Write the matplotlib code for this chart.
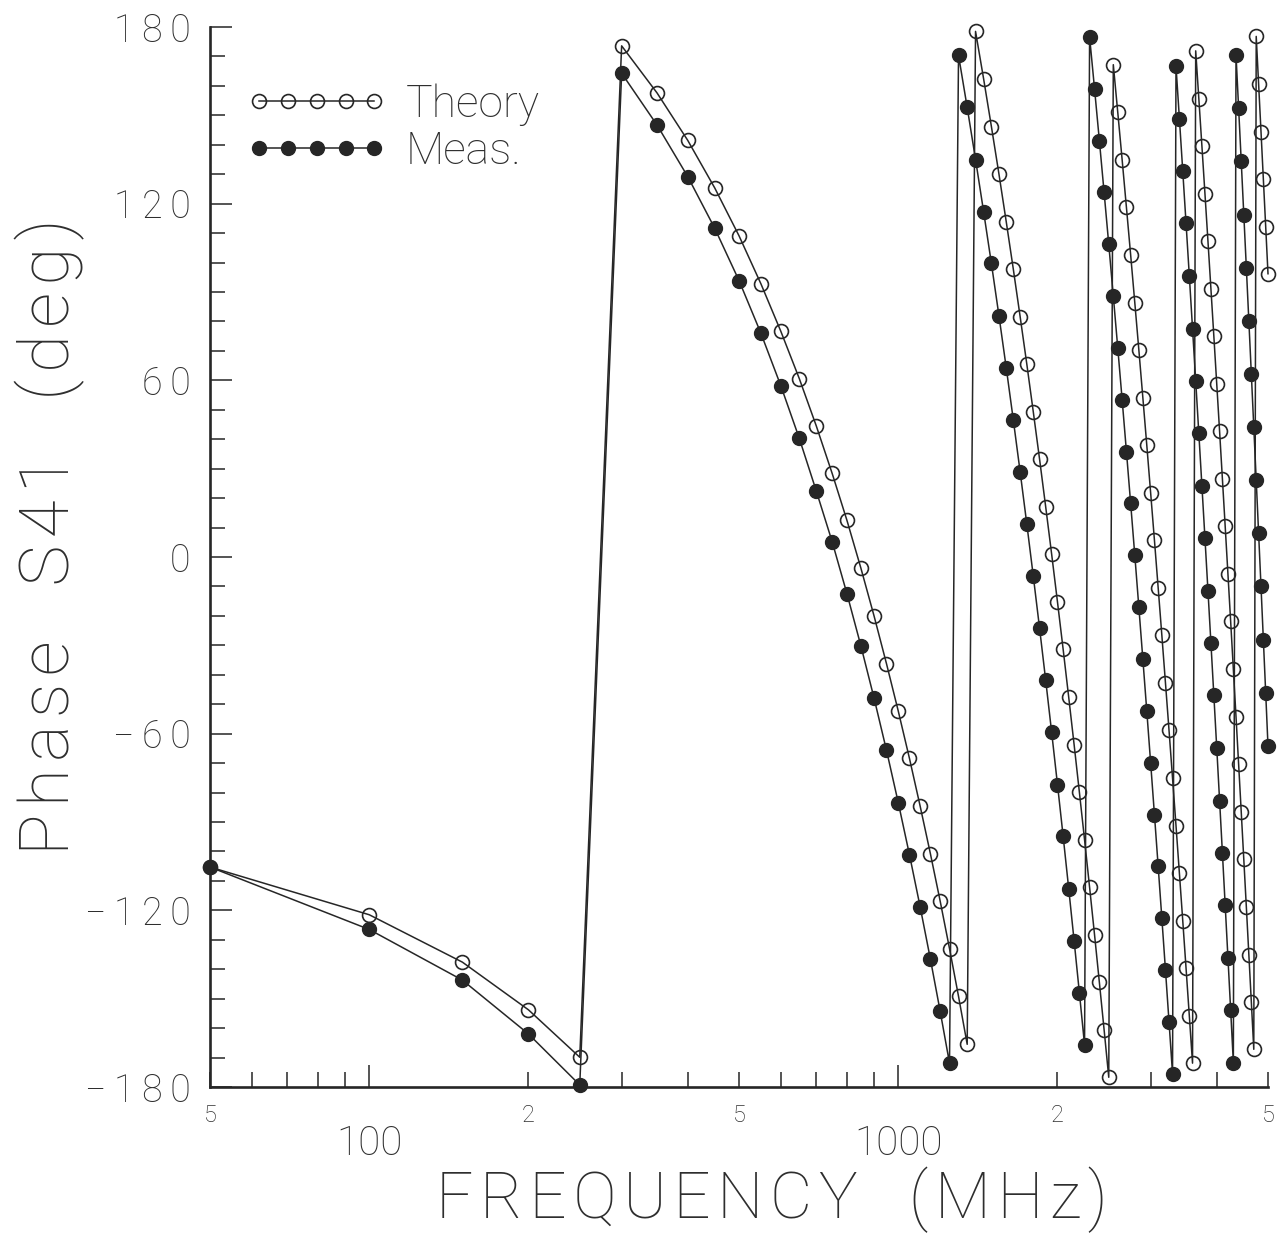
import matplotlib
matplotlib.use("Agg")
import matplotlib.pyplot as plt
from matplotlib.ticker import LogLocator, MultipleLocator, FuncFormatter

# frequency grid of the sweep (MHz)
freq_mhz = [
    50, 100, 150, 200, 250, 300, 350, 400, 450, 500,
    550, 600, 650, 700, 750, 800, 850, 900, 950, 1000,
    1050, 1100, 1150, 1200, 1250, 1300, 1350, 1400, 1450, 1500,
    1550, 1600, 1650, 1700, 1750, 1800, 1850, 1900, 1950, 2000,
    2050, 2100, 2150, 2200, 2250, 2300, 2350, 2400, 2450, 2500,
    2550, 2600, 2650, 2700, 2750, 2800, 2850, 2900, 2950, 3000,
    3050, 3100, 3150, 3200, 3250, 3300, 3350, 3400, 3450, 3500,
    3550, 3600, 3650, 3700, 3750, 3800, 3850, 3900, 3950, 4000,
    4050, 4100, 4150, 4200, 4250, 4300, 4350, 4400, 4450, 4500,
    4550, 4600, 4650, 4700, 4750, 4800, 4850, 4900, 4950, 5000,
]

# phase of S41 in degrees
phase_theory = [
    -105.3, -121.5, -137.6, -153.8, -169.9, 173.6, 157.6, 141.5, 125.3, 109.1,
    92.8, 76.6, 60.6, 44.5, 28.4, 12.4, -3.8, -20.0, -36.2, -52.3,
    -68.4, -84.6, -100.7, -116.8, -133.0, -149.2, -165.5, 178.5, 162.4, 146.2,
    130.1, 113.9, 97.8, 81.6, 65.5, 49.3, 33.2, 17.0, 0.9, -15.3,
    -31.4, -47.6, -63.7, -79.9, -96.0, -112.2, -128.3, -144.5, -160.6, -176.7,
    167.2, 151.0, 134.9, 118.7, 102.6, 86.4, 70.3, 54.1, 38.0, 21.8,
    5.7, -10.5, -26.6, -42.8, -58.9, -75.1, -91.2, -107.4, -123.5, -139.7,
    -155.8, -171.9, 171.9, 155.7, 139.6, 123.4, 107.3, 91.1, 75.0, 58.8,
    42.7, 26.5, 10.4, -5.8, -21.9, -38.1, -54.2, -70.4, -86.5, -102.7,
    -118.8, -135.0, -151.1, -167.2, 176.8, 160.6, 144.5, 128.3, 112.2, 96.2,
]

phase_meas = [
    -105.3, -126.5, -143.7, -162.0, -179.3, 164.3, 146.7, 129.2, 111.6, 93.9,
    76.0, 58.1, 40.3, 22.4, 5.2, -12.5, -30.2, -47.9, -65.6, -83.4,
    -101.1, -118.8, -136.5, -154.2, -171.9, 170.4, 152.7, 135.0, 117.3, 99.7,
    82.0, 64.3, 46.6, 28.9, 11.2, -6.5, -24.2, -41.9, -59.6, -77.3,
    -94.9, -112.6, -130.3, -148.0, -165.7, 176.6, 159.0, 141.4, 123.8, 106.2,
    88.6, 71.0, 53.4, 35.8, 18.2, 0.6, -17.1, -34.7, -52.3, -69.9,
    -87.5, -105.1, -122.7, -140.3, -157.9, -175.5, 166.7, 148.9, 131.1, 113.3,
    95.5, 77.6, 59.8, 42.0, 24.2, 6.4, -11.4, -29.2, -47.0, -64.8,
    -82.7, -100.5, -118.3, -136.1, -153.9, -171.7, 170.5, 152.4, 134.4, 116.3,
    98.3, 80.2, 62.2, 44.1, 26.1, 8.0, -10.0, -28.1, -46.1, -64.2,
]

series_labels = ["Theory", "Meas."]
x_title = "FREQUENCY  (MHz)"
y_title = "Phase  S41  (deg)"

INK = "#262626"
TXT = "#2e2e2e"

plt.rcParams['font.family'] = ['Roboto', 'DejaVu Sans']
plt.rcParams['font.weight'] = 'light'


def spaced(s, gap="\u2009"):
    # the plotter font has wide letter spacing
    return gap.join(s)


def ytick_fmt(v, pos):
    v = int(round(v))
    if v < 0:
        return "\u2212\u2009" + spaced(str(-v))
    return spaced(str(v))


def xminor_fmt(v, pos):
    lead = int(round(v / 10 ** int(f"{v:e}".split("e")[1])))
    return str(lead) if lead in (2, 5) else ""


fig = plt.figure(figsize=(12.82, 12.35), dpi=100)
ax = fig.add_axes([210 / 1282, 148 / 1235, 1058 / 1282, 1060 / 1235])

ax.plot(freq_mhz, phase_theory, '-o', color=INK, lw=1.1, ms=10,
        mfc='none', mec=INK, mew=1.2, clip_on=False, label=series_labels[0])
ax.plot(freq_mhz, phase_meas, '-o', color=INK, lw=1.1, ms=10,
        mfc=INK, mec=INK, mew=1.0, clip_on=False, label=series_labels[1])

ax.set_xscale('log')
ax.set_xlim(50, 5000)
ax.set_ylim(-180, 180)

for side in ('top', 'right'):
    ax.spines[side].set_visible(False)
for side in ('left', 'bottom'):
    ax.spines[side].set_linewidth(1.9)
    ax.spines[side].set_color(INK)

ax.xaxis.set_major_locator(LogLocator(base=10))
ax.xaxis.set_major_formatter(FuncFormatter(lambda v, p: f"{v:.0f}"))
ax.xaxis.set_minor_locator(LogLocator(base=10, subs=range(2, 10)))
ax.xaxis.set_minor_formatter(FuncFormatter(xminor_fmt))

ax.yaxis.set_major_locator(MultipleLocator(60))
ax.yaxis.set_major_formatter(FuncFormatter(ytick_fmt))
ax.yaxis.set_minor_locator(MultipleLocator(10))

ax.tick_params(which='both', direction='in', color=INK, width=1.1, labelcolor=TXT)
ax.tick_params(axis='x', which='major', length=16, pad=27, labelsize=29)
ax.tick_params(axis='x', which='minor', length=11, pad=12, labelsize=17)
ax.tick_params(axis='y', which='major', length=16, pad=14, labelsize=27)
ax.tick_params(axis='y', which='minor', length=11)

ax.legend(loc='upper left', bbox_to_anchor=(0.0336, 0.947), frameon=False,
          numpoints=5, handlelength=3.2, handletextpad=0.4, borderpad=0,
          borderaxespad=0, labelspacing=0.1, fontsize=32, labelcolor=TXT)

fig.text(772 / 1282, 1 - 1200 / 1235, spaced(x_title, "\u200a"), fontsize=47,
         ha='center', va='center', color=TXT)
fig.text(50 / 1282, 1 - 537 / 1235, spaced(y_title, "\u200a"), fontsize=50,
         ha='center', va='center', rotation=90, color=TXT)

fig.savefig("out.png", dpi=100, facecolor='white')
